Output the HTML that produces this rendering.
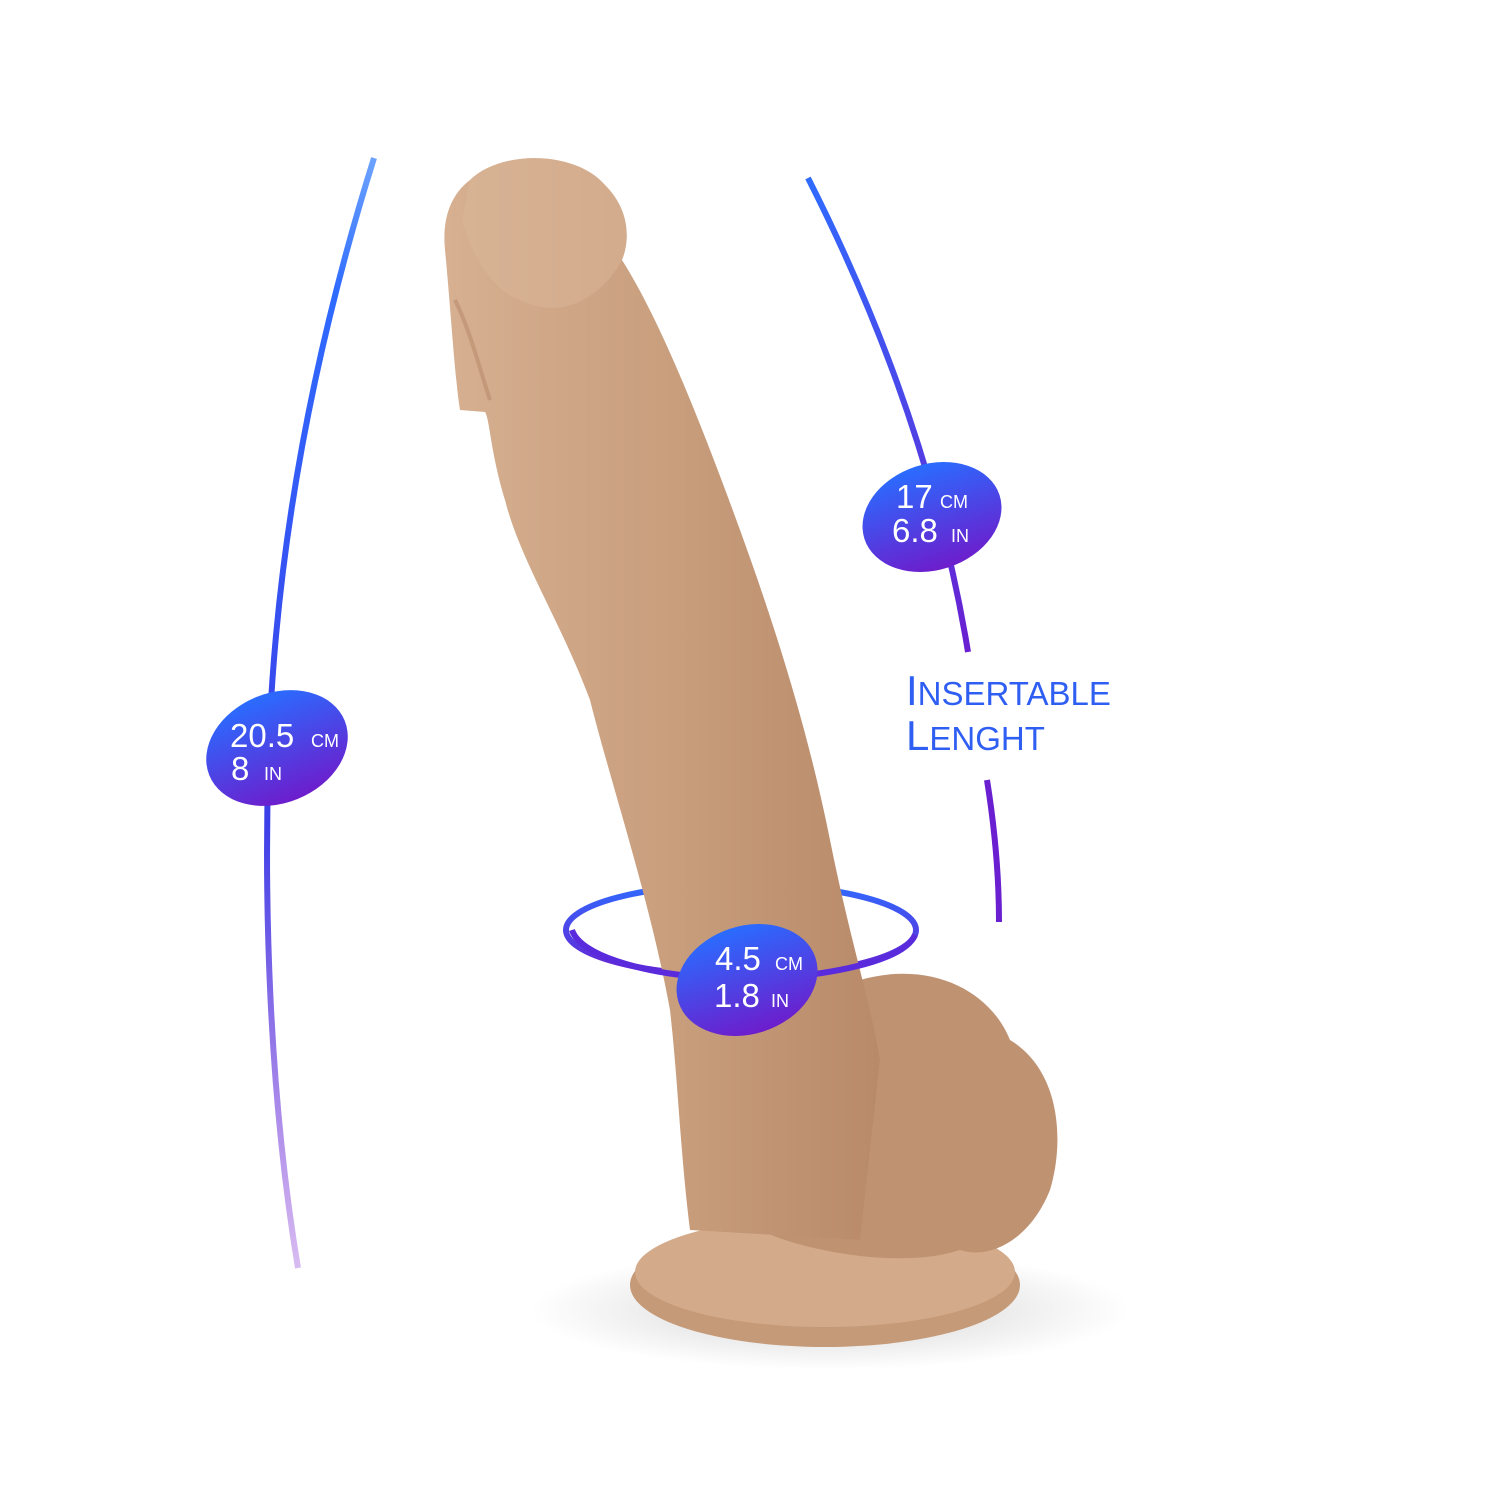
<!DOCTYPE html>
<html><head><meta charset="utf-8"><style>
html,body{margin:0;padding:0;background:#fff;}
svg{display:block}
text{font-family:"Liberation Sans",sans-serif;}
</style></head><body>
<svg width="1500" height="1500" viewBox="0 0 1500 1500" xmlns="http://www.w3.org/2000/svg">
<defs>
<linearGradient id="lg" x1="0" y1="0" x2="0" y2="1">
<stop offset="0" stop-color="#2f7bff" stop-opacity="0.7"/>
<stop offset="0.12" stop-color="#2f6bff"/>
<stop offset="0.6" stop-color="#3b3fe8"/>
<stop offset="1" stop-color="#7a1fd0" stop-opacity="0.3"/>
</linearGradient>
<linearGradient id="rg" x1="0" y1="0" x2="0" y2="1">
<stop offset="0" stop-color="#2f6bff"/>
<stop offset="1" stop-color="#6a1fd0"/>
</linearGradient>
<linearGradient id="bg" x1="0" y1="0" x2="0" y2="1">
<stop offset="0" stop-color="#2a6cff"/>
<stop offset="1" stop-color="#6d1dcc"/>
</linearGradient>
<linearGradient id="skin" x1="0" y1="0" x2="1" y2="0">
<stop offset="0" stop-color="#d6b091"/>
<stop offset="0.5" stop-color="#c99f7e"/>
<stop offset="1" stop-color="#b88a69"/>
</linearGradient>
<radialGradient id="sh" cx="0.5" cy="0.5" r="0.5">
<stop offset="0" stop-color="#000" stop-opacity="0.18"/>
<stop offset="1" stop-color="#000" stop-opacity="0"/>
</radialGradient>
</defs>

<ellipse cx="830" cy="1310" rx="300" ry="60" fill="url(#sh)"/>

<path d="M374,158 C320,330 280,520 270,720 C262,900 270,1100 298,1268" fill="none" stroke="url(#lg)" stroke-width="6"/>
<path d="M808,178 C880,320 940,480 968,652" fill="none" stroke="url(#rg)" stroke-width="6"/>
<path d="M987,780 C995,830 999,880 999,922" fill="none" stroke="#6a1fd0" stroke-width="6"/>

<ellipse cx="741" cy="930" rx="175" ry="46" fill="none" stroke="url(#rg)" stroke-width="6"/>

<ellipse cx="825" cy="1285" rx="195" ry="62" fill="#c59a78"/>
<ellipse cx="825" cy="1272" rx="190" ry="55" fill="#d3ab8b"/>
<path d="M860,980 C930,960 990,990 1010,1040 C1060,1070 1065,1140 1050,1190 C1030,1240 990,1260 960,1250 C900,1270 800,1250 760,1230 L700,1220 C680,1150 700,1060 760,1030 Z" fill="#bf9372"/>
<path d="M470,180 C500,150 575,150 605,185 C630,210 630,240 622,260 C660,320 700,420 740,530 C780,640 810,740 830,840 C850,940 870,1000 880,1060 L860,1240 L690,1230 C680,1150 678,1080 670,1010 C650,900 610,780 590,700 C560,620 520,560 505,500 C490,450 490,420 485,412 L460,410 C455,380 450,300 445,250 C442,220 450,195 470,180 Z" fill="url(#skin)"/>
<path d="M470,180 C500,150 575,150 605,185 C630,210 630,240 622,260 C600,300 560,320 520,300 C490,290 470,250 462,220 Z" fill="#d9b597" opacity="0.5"/>
<path d="M455,300 C470,330 480,370 490,400" fill="none" stroke="#b48665" stroke-width="4" opacity="0.5"/>

<path d="M572,930 C580,955 640,972 700,977" fill="none" stroke="#5a2bdc" stroke-width="6"/>
<path d="M800,976 C850,970 905,958 915,935" fill="none" stroke="#5a2bdc" stroke-width="6"/>

<ellipse cx="277" cy="748" rx="73" ry="55" transform="rotate(-22 277 748)" fill="url(#bg)"/>
<text x="230" y="747" font-size="33" fill="#fff">20.5</text>
<text x="311" y="747" font-size="18" fill="#fff">CM</text>
<text x="231" y="780" font-size="33" fill="#fff">8</text>
<text x="264" y="780" font-size="18" fill="#fff">IN</text>

<ellipse cx="932" cy="517" rx="71" ry="53" transform="rotate(-18 932 517)" fill="url(#bg)"/>
<text x="896" y="508" font-size="33" fill="#fff">17</text>
<text x="940" y="508" font-size="18" fill="#fff">CM</text>
<text x="892" y="542" font-size="33" fill="#fff">6.8</text>
<text x="951" y="542" font-size="18" fill="#fff">IN</text>

<ellipse cx="747" cy="980" rx="72" ry="54" transform="rotate(-18 747 980)" fill="url(#bg)"/>
<text x="715" y="970" font-size="33" fill="#fff">4.5</text>
<text x="775" y="970" font-size="18" fill="#fff">CM</text>
<text x="714" y="1007" font-size="33" fill="#fff">1.8</text>
<text x="771" y="1007" font-size="18" fill="#fff">IN</text>

<text x="906" y="705" font-size="42" fill="#2f5ef2">I<tspan font-size="33">NSERTABLE</tspan></text>
<text x="906" y="750" font-size="42" fill="#2f5ef2">L<tspan font-size="33">ENGHT</tspan></text>
</svg>
</body></html>
